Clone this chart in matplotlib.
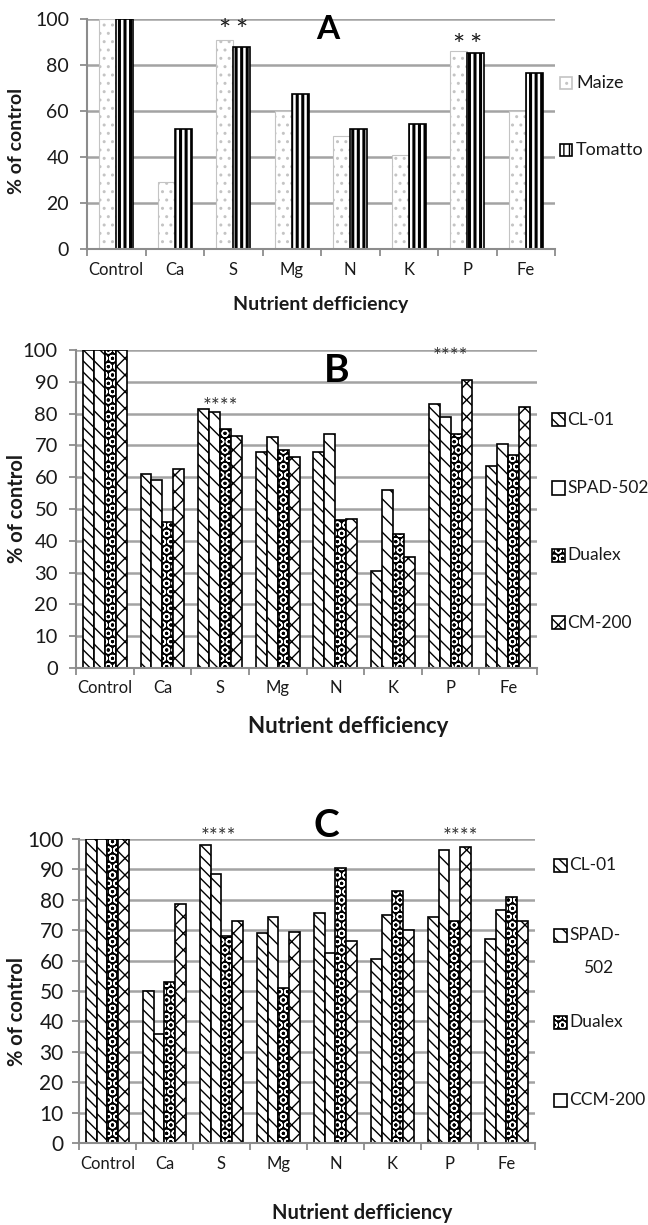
import numpy as np
import matplotlib.pyplot as plt
from matplotlib.patches import Rectangle

plt.rcParams['font.family'] = ['Lato', 'DejaVu Sans']
plt.rcParams['hatch.linewidth'] = 1.0

nutrients = ['Control', 'Ca', 'S', 'Mg', 'N', 'K', 'P', 'Fe']

# A: maize vs tomato
maize = [100, 29, 91, 60, 49, 41, 86, 60]
tomatto = [100, 52, 88, 67.5, 52, 54.5, 85, 76.5]

# B: meters
b_labels = ['CL-01', 'SPAD-502', 'Dualex', 'CM-200']
b_cl01 = [100, 61, 81.5, 68, 68, 30.5, 83, 63.5]
b_spad = [100, 59, 80.5, 72.5, 73.5, 56, 79, 70.5]
b_dualex = [100, 46, 75, 68.5, 46.5, 42, 73.5, 67]
b_cm200 = [100, 62.5, 73, 66.5, 47, 35, 90.5, 82]

# C: meters
c_labels = ['CL-01', 'SPAD-', 'Dualex', 'CCM-200']
c_cl01 = [100, 50, 98, 69, 75.5, 60.5, 74.5, 67]
c_spad = [100, 36, 88.5, 74.5, 62.5, 75, 96.5, 76.5]
c_dualex = [100, 53, 68, 51, 90.5, 83, 73, 81]
c_ccm200 = [100, 78.5, 73, 69.5, 66.5, 70, 97.5, 73]

GRID = '#a3a3a3'
AXC = '#8c8c8c'
TXT = '#1a1a1a'

x = np.arange(len(nutrients)) + 0.5

fig = plt.figure(figsize=(6.48, 12.25), dpi=100)
axA = fig.add_axes([0.1343, 0.7967, 0.7222, 0.1878])
axB = fig.add_axes([0.1173, 0.4547, 0.7114, 0.2596])
axC = fig.add_axes([0.1219, 0.0669, 0.7037, 0.2482])


def style(ax, step, tsize, ypad):
    ax.set_xlim(0, 8)
    ax.set_ylim(0, 100)
    ax.set_yticks(np.arange(0, 101, step))
    ax.set_xticks(np.arange(9))
    ax.set_xticklabels([])
    ax.set_xticks(x, minor=True)
    ax.set_xticklabels(nutrients, minor=True, fontsize=12, color=TXT)
    ax.tick_params(axis='x', which='major', length=5, width=1.3, color=AXC)
    ax.tick_params(axis='x', which='minor', length=0, pad=9)
    ax.tick_params(axis='y', length=5, width=1.3, color=AXC, labelsize=tsize,
                   labelcolor=TXT, pad=ypad)
    ax.yaxis.grid(True, color=GRID, lw=1.8)
    ax.set_axisbelow(True)
    for s in ['top', 'right']:
        ax.spines[s].set_visible(False)
    for s in ['left', 'bottom']:
        ax.spines[s].set_color(AXC)
        ax.spines[s].set_linewidth(1.5)


def hatched(ax, xs, h, w, kind, **kw):
    # draw one series with an excel-like pattern
    if kind == 'dots':
        ax.bar(xs, h, w, color='white', edgecolor='#c4c4c4', hatch='..', lw=0.8, **kw)
    elif kind == 'vstripe':
        bars = ax.bar(xs, h, w, color='white', edgecolor='black', hatch='|||', lw=1.2, **kw)
        for b in bars:
            if hasattr(b, 'set_hatch_linewidth'):
                b.set_hatch_linewidth(2.2)
    elif kind == 'diag':
        ax.bar(xs, h, w, color='white', edgecolor='black', hatch='\\\\\\', lw=1.2, **kw)
    elif kind == 'diag2':
        ax.bar(xs, h, w, color='white', edgecolor='black', hatch='\\\\', lw=1.2, **kw)
    elif kind == 'check':
        ax.bar(xs, h, w, color='black', edgecolor='white', hatch='OO', lw=0, **kw)
        ax.bar(xs, h, w, fill=False, edgecolor='black', lw=1.2)
    elif kind == 'cross':
        ax.bar(xs, h, w, color='white', edgecolor='black', hatch='xx', lw=1.2, **kw)


def legend_item(ax, bx, tx, y, w, h, kind, label, size=13):
    if kind == 'check':
        ax.add_patch(Rectangle((bx, y - h / 2), w, h, transform=ax.transAxes, clip_on=False,
                               facecolor='black', edgecolor='white', hatch='OO', lw=0))
        ax.add_patch(Rectangle((bx, y - h / 2), w, h, transform=ax.transAxes, clip_on=False,
                               fill=False, edgecolor='black', lw=1.2))
    else:
        hatch = {'dots': '..', 'vstripe': '|||', 'diag': '\\\\\\', 'diag2': '\\\\',
                 'cross': 'xx', 'plain': None}[kind]
        ec = '#c4c4c4' if kind == 'dots' else 'black'
        ax.add_patch(Rectangle((bx, y - h / 2), w, h, transform=ax.transAxes, clip_on=False,
                               facecolor='white', edgecolor=ec, hatch=hatch, lw=1.2))
    ax.text(tx, y, label, transform=ax.transAxes, fontsize=size, color=TXT,
            va='center', ha='left')


# ---- panel A
style(axA, 20, 14, 8)
wa = 0.29
hatched(axA, x - wa / 2, maize, wa, 'dots')
hatched(axA, x + wa / 2, tomatto, wa, 'vstripe')
axA.set_ylabel('% of control', fontsize=14, fontweight='bold', color=TXT, va='center')
axA.yaxis.set_label_coords(-0.15, 0.47)
axA.set_xlabel('Nutrient defficiency', fontsize=14, fontweight='bold', color=TXT, va='center')
axA.xaxis.set_label_coords(0.5, -0.243)
axA.text(0.515, 0.955, 'A', transform=axA.transAxes, fontsize=24, fontweight='bold',
         ha='center', va='center')
for i, ys in [(2, 94.5), (6, 88)]:
    for dx in (-wa / 2, wa / 2):
        axA.text(x[i] + dx, ys, '*', fontsize=21, ha='center', va='center', color=TXT)
legend_item(axA, 1.011, 1.045, 0.722, 0.0256, 0.052, 'dots', 'Maize')
legend_item(axA, 1.011, 1.045, 0.430, 0.0256, 0.052, 'vstripe', 'Tomatto')

# ---- panel B
style(axB, 10, 14.5, 8)
wb = 0.19
kinds = ['diag', 'diag2', 'check', 'cross']
for k, (vals, kind) in enumerate(zip([b_cl01, b_spad, b_dualex, b_cm200], kinds)):
    hatched(axB, x + (k - 1.5) * wb, vals, wb, kind)
axB.set_ylabel('% of control', fontsize=14.5, fontweight='bold', color=TXT, va='center')
axB.yaxis.set_label_coords(-0.128, 0.5)
axB.set_xlabel('Nutrient defficiency', fontsize=16, fontweight='bold', color=TXT, va='center')
axB.xaxis.set_label_coords((348 - 76) / 461, (668 - 727) / 318)
axB.text(0.566, 0.937, 'B', transform=axB.transAxes, fontsize=28, fontweight='bold',
         ha='center', va='center')
axB.text(x[2], 82.0, '****', fontsize=15, ha='center', va='center', color='#333333')
axB.text(x[6], 97.8, '****', fontsize=15, ha='center', va='center', color='#333333')
legend_kinds_b = ['diag', 'plain', 'check', 'cross']
for lab, kind, yy in zip(b_labels, legend_kinds_b, [0.780, 0.566, 0.355, 0.142]):
    legend_item(axB, 1.033, 1.066, yy, 0.028, 0.041, kind, lab, size=12.5)

# ---- panel C
style(axC, 10, 15, 6)
for k, (vals, kind) in enumerate(zip([c_cl01, c_spad, c_dualex, c_ccm200], kinds)):
    hatched(axC, x + (k - 1.5) * wb, vals, wb, kind)
axC.set_ylabel('% of control', fontsize=14.5, fontweight='bold', color=TXT, va='center')
axC.yaxis.set_label_coords(-0.136, 0.434)
axC.set_xlabel('Nutrient defficiency', fontsize=14.5, fontweight='bold', color=TXT, va='center')
axC.xaxis.set_label_coords((362 - 79) / 456, (1143 - 1213) / 304)
axC.text(0.542, 1.043, 'C', transform=axC.transAxes, fontsize=28, fontweight='bold',
         ha='center', va='center')
axC.text(x[2] - 0.05, 100.6, '****', fontsize=15, ha='center', va='center', color='#333333')
axC.text(x[6] + 0.2, 100.6, '****', fontsize=15, ha='center', va='center', color='#333333')
legend_kinds_c = ['diag', 'diag2', 'check', 'plain']
for lab, kind, yy in zip(c_labels, legend_kinds_c, [0.914, 0.684, 0.398, 0.141]):
    legend_item(axC, 1.042, 1.075, yy, 0.028, 0.043, kind, lab, size=12.5)
axC.text(1.075 + 0.03, 0.576, '502', transform=axC.transAxes, fontsize=12.5, color=TXT,
         va='center', ha='left')

fig.savefig('out.png', dpi=100, facecolor='white')
